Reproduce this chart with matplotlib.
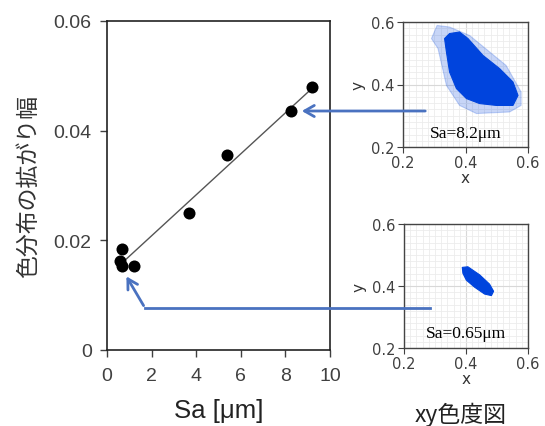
import numpy as np
import matplotlib
matplotlib.use("Agg")
import matplotlib.pyplot as plt
from matplotlib.patches import Polygon, FancyArrowPatch
from matplotlib.lines import Line2D
from matplotlib.ticker import MultipleLocator

plt.rcParams['font.family'] = ['Liberation Sans', 'Noto Sans CJK JP']

# ---- main scatter data ----
sa_um = [0.58, 0.66, 0.69, 1.21, 3.69, 5.39, 8.23, 9.19]
spread = [0.0163, 0.0184, 0.0154, 0.0154, 0.0250, 0.0356, 0.0435, 0.0480]
fit_range = [0.85, 9.1]
x_ticks = [0, 2, 4, 6, 8, 10]
y_ticks = [0, 0.02, 0.04, 0.06]
y_ticklabels = ["0", "0.02", "0.04", "0.06"]

# ---- chromaticity clouds (outlines) ----
top_core_x = [0.349, 0.381, 0.408, 0.456, 0.509, 0.552, 0.568, 0.552, 0.499, 0.445, 0.403, 0.371, 0.349, 0.339, 0.333]
top_core_y = [0.563, 0.568, 0.547, 0.493, 0.451, 0.408, 0.365, 0.333, 0.333, 0.339, 0.355, 0.387, 0.440, 0.504, 0.547]
top_halo_x = [0.309, 0.349, 0.413, 0.530, 0.578, 0.578, 0.541, 0.435, 0.381, 0.339, 0.312, 0.291]
top_halo_y = [0.589, 0.584, 0.557, 0.461, 0.376, 0.333, 0.312, 0.307, 0.333, 0.397, 0.515, 0.547]
bot_x = [0.388, 0.406, 0.444, 0.476, 0.489, 0.482, 0.460, 0.428, 0.401, 0.390]
bot_y = [0.460, 0.462, 0.436, 0.406, 0.383, 0.369, 0.374, 0.396, 0.419, 0.441]
inset_ticks = [0.2, 0.4, 0.6]
top_label = "Sa=8.2μm"
bot_label = "Sa=0.65μm"

W, H = 545, 427
fig = plt.figure(figsize=(W / 100, H / 100), dpi=100)

def rect(l, t, r, b):
    return [l / W, 1 - b / H, (r - l) / W, (b - t) / H]

tick_col = '#404040'
ax = fig.add_axes(rect(107, 22, 330, 351))
ax.scatter(sa_um, spread, s=75, color='black', zorder=3, linewidths=0)
coef = np.polyfit(sa_um, spread, 1)
fx = np.array(fit_range)
ax.plot(fx, np.polyval(coef, fx), color='#555555', lw=1, zorder=2)
ax.set_xlim(0, 10)
ax.set_ylim(0, 0.06)
ax.set_xticks(x_ticks)
ax.set_yticks(y_ticks)
ax.set_yticklabels(y_ticklabels)
ax.tick_params(direction='out', length=5, pad=6, labelsize=14, colors=tick_col, width=1)
ax.tick_params(axis='x', pad=7)
for sp in ax.spines.values():
    sp.set_color('#222222')
    sp.set_linewidth(1.2)
ax.set_xlabel("Sa [μm]", fontsize=18.5, color='#222222', labelpad=10)
ax.set_ylabel("色分布の拡がり幅", fontsize=16.5, color='#333333', labelpad=10,
              family=['Noto Sans CJK JP', 'DejaVu Sans'])

blue = '#0044dd'

def inset(box, polys, label, lx, ly):
    a = fig.add_axes(rect(*box))
    a.set_xlim(0.2, 0.6)
    a.set_ylim(0.2, 0.6)
    a.set_xticks(inset_ticks)
    a.set_yticks(inset_ticks)
    a.xaxis.set_minor_locator(MultipleLocator(0.02))
    a.yaxis.set_minor_locator(MultipleLocator(0.02))
    a.grid(which='minor', color='#ececec', lw=0.6)
    a.grid(which='major', color='#d8d8d8', lw=0.8)
    a.set_axisbelow(True)
    a.tick_params(which='minor', length=0)
    a.tick_params(which='major', direction='out', length=4, pad=2, labelsize=10.5, colors=tick_col)
    for t in a.get_xticklabels() + a.get_yticklabels():
        t.set_family('DejaVu Sans')
    for sp in a.spines.values():
        sp.set_color('#444444')
        sp.set_linewidth(1)
    for px, py, alpha in polys:
        a.add_patch(Polygon(np.column_stack([px, py]), closed=True,
                            facecolor=blue, edgecolor=blue, lw=0.8, alpha=alpha, zorder=3))
    a.text(lx, ly, label, fontsize=12.5, family='Liberation Serif', ha='center', va='center', zorder=4)
    a.set_xlabel("x", fontsize=11, color='#333333', labelpad=0, family='DejaVu Sans')
    a.set_ylabel("y", fontsize=11, color='#333333', labelpad=4, family='DejaVu Sans')
    return a

inset((403, 23, 528, 148), [(top_halo_x, top_halo_y, 0.22), (top_core_x, top_core_y, 1.0)],
      top_label, 0.40, 0.245)
inset((404, 225, 528, 349), [(bot_x, bot_y, 1.0)], bot_label, 0.40, 0.248)

fig.text(461 / W, 1 - 415 / H, "xy色度図", fontsize=16.5, color='#222222', ha='center', va='center',
         family=['Noto Sans CJK JP', 'DejaVu Sans'])

def fpt(x, y):
    return (x / W, 1 - y / H)

arrow_col = '#4a72c0'
a1 = FancyArrowPatch(fpt(428, 112), fpt(299, 112), transform=fig.transFigure,
                     arrowstyle='->,head_length=7,head_width=4', color=arrow_col, lw=2)
fig.add_artist(a1)
fig.add_artist(Line2D([fpt(430, 309)[0], fpt(145, 309)[0]], [fpt(430, 309)[1], fpt(145, 309)[1]],
                      transform=fig.transFigure, color=arrow_col, lw=2))
a2 = FancyArrowPatch(fpt(145, 309), fpt(125, 275), transform=fig.transFigure,
                     arrowstyle='->,head_length=7,head_width=4', color=arrow_col, lw=2)
fig.add_artist(a2)

fig.savefig("out.png", dpi=100)
